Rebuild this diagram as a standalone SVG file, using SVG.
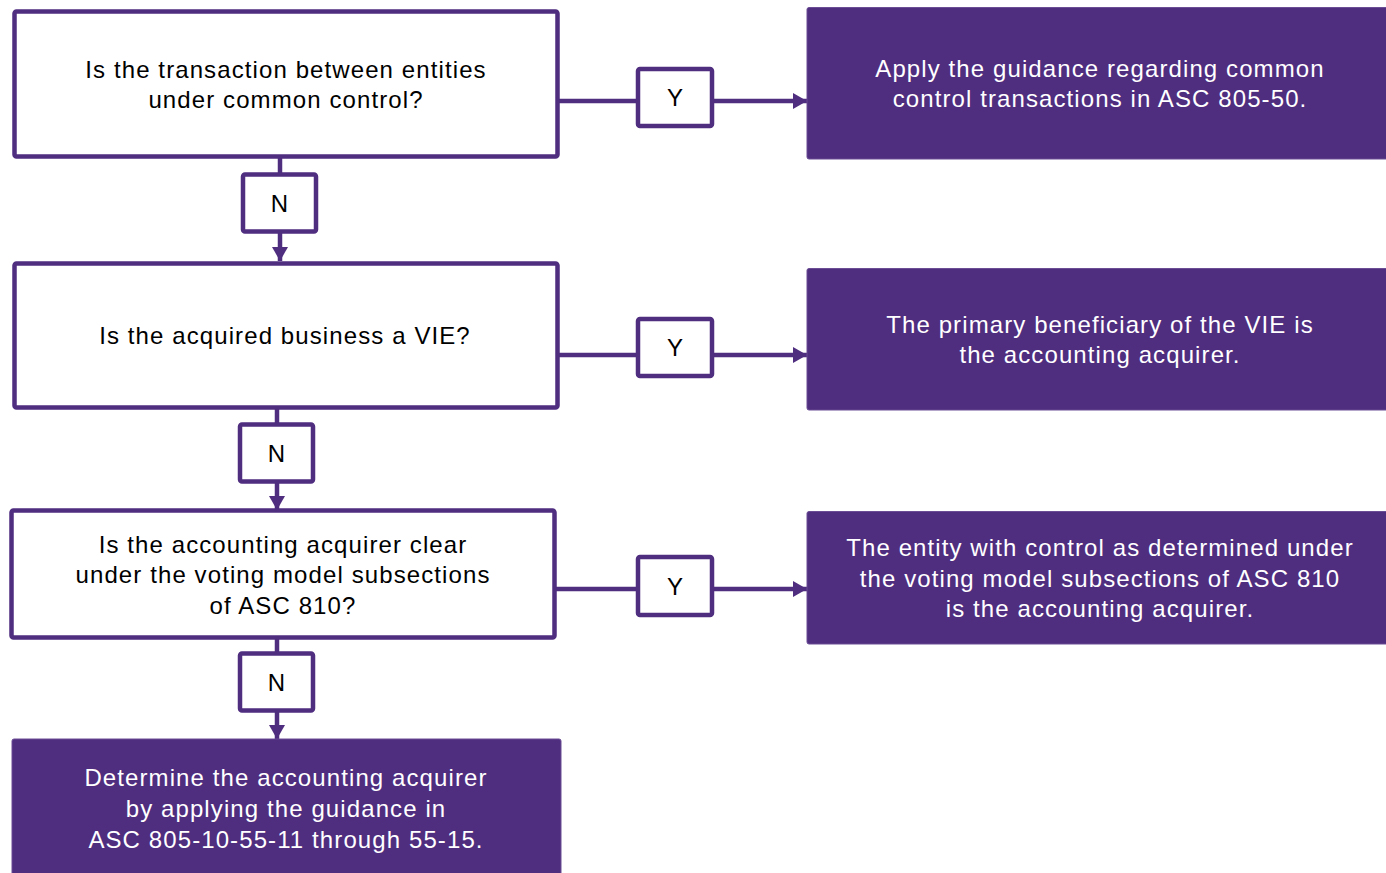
<svg xmlns="http://www.w3.org/2000/svg" width="1386" height="873" viewBox="0 0 1386 873">
<style>
.q{fill:#fff;stroke:#4F2D7F;stroke-width:4.5}
.a{fill:#4F2D7F;stroke:#6a4d95;stroke-width:1}
.lb{fill:#fff;stroke:#4F2D7F;stroke-width:4.5}
.t{font-family:"Liberation Sans",Arial,sans-serif;font-size:24px;letter-spacing:1.1px;text-anchor:middle;fill:#000}
.w{fill:#fff}
.c{stroke:#4F2D7F;stroke-width:4.5;fill:none}
</style>
<defs>
<marker id="ah" markerUnits="userSpaceOnUse" markerWidth="14" markerHeight="16" refX="14" refY="8" orient="auto">
<path d="M0,0 L14,8 L0,16 Z" fill="#4F2D7F"/>
</marker>
</defs>
<rect width="1386" height="873" fill="#fff"/>
<g id="connectors">
<path class="c" d="M280,157 V174"/>
<path class="c" d="M280,231 V261" marker-end="url(#ah)"/>
<path class="c" d="M277,409 V424"/>
<path class="c" d="M277,481 V510" marker-end="url(#ah)"/>
<path class="c" d="M277,639 V653"/>
<path class="c" d="M277,710 V739" marker-end="url(#ah)"/>
<path class="c" d="M558,101 H638"/>
<path class="c" d="M712,101 H807" marker-end="url(#ah)"/>
<path class="c" d="M558,355 H638"/>
<path class="c" d="M712,355 H807" marker-end="url(#ah)"/>
<path class="c" d="M555,589 H638"/>
<path class="c" d="M712,589 H807" marker-end="url(#ah)"/>
</g>
<g id="q1">
<rect class="q" x="14.5" y="11.5" width="543" height="145" rx="2"/>
<text class="t" x="286" y="78">Is the transaction between entities</text>
<text class="t" x="286" y="108">under common control?</text>
</g>
<g id="q2">
<rect class="q" x="14.5" y="263.5" width="543" height="144" rx="2"/>
<text class="t" x="285" y="344">Is the acquired business a VIE?</text>
</g>
<g id="q3">
<rect class="q" x="11.5" y="510.5" width="543" height="127" rx="2"/>
<text class="t" x="283" y="553">Is the accounting acquirer clear</text>
<text class="t" x="283" y="583">under the voting model subsections</text>
<text class="t" x="283" y="614">of ASC 810?</text>
</g>
<g id="n1">
<rect class="lb" x="243" y="174.5" width="73" height="57" rx="2"/>
<text class="t" x="280" y="212">N</text>
</g>
<g id="n2">
<rect class="lb" x="240" y="424.5" width="73" height="57" rx="2"/>
<text class="t" x="277" y="462">N</text>
</g>
<g id="n3">
<rect class="lb" x="240" y="653.5" width="73" height="57" rx="2"/>
<text class="t" x="277" y="691">N</text>
</g>
<g id="y1">
<rect class="lb" x="638" y="69" width="74" height="57" rx="2"/>
<text class="t" x="675.5" y="106">Y</text>
</g>
<g id="y2">
<rect class="lb" x="638" y="319" width="74" height="57" rx="2"/>
<text class="t" x="675.5" y="356">Y</text>
</g>
<g id="y3">
<rect class="lb" x="638" y="557" width="74" height="58" rx="2"/>
<text class="t" x="675.5" y="595">Y</text>
</g>
<g id="r1">
<rect class="a" x="807" y="7.5" width="590" height="151.5" rx="2"/>
<text class="t w" x="1100" y="77">Apply the guidance regarding common</text>
<text class="t w" x="1100" y="107">control transactions in ASC 805-50.</text>
</g>
<g id="r2">
<rect class="a" x="807" y="268.5" width="590" height="141.5" rx="2"/>
<text class="t w" x="1100" y="333">The primary beneficiary of the VIE is</text>
<text class="t w" x="1100" y="363">the accounting acquirer.</text>
</g>
<g id="r3">
<rect class="a" x="807" y="511.5" width="590" height="132.5" rx="2"/>
<text class="t w" x="1100" y="556">The entity with control as determined under</text>
<text class="t w" x="1100" y="587">the voting model subsections of ASC 810</text>
<text class="t w" x="1100" y="617">is the accounting acquirer.</text>
</g>
<g id="end">
<rect class="a" x="12" y="739" width="549" height="150" rx="2"/>
<text class="t w" x="286" y="786">Determine the accounting acquirer</text>
<text class="t w" x="286" y="817">by applying the guidance in</text>
<text class="t w" x="286" y="848">ASC 805-10-55-11 through 55-15.</text>
</g>
</svg>
